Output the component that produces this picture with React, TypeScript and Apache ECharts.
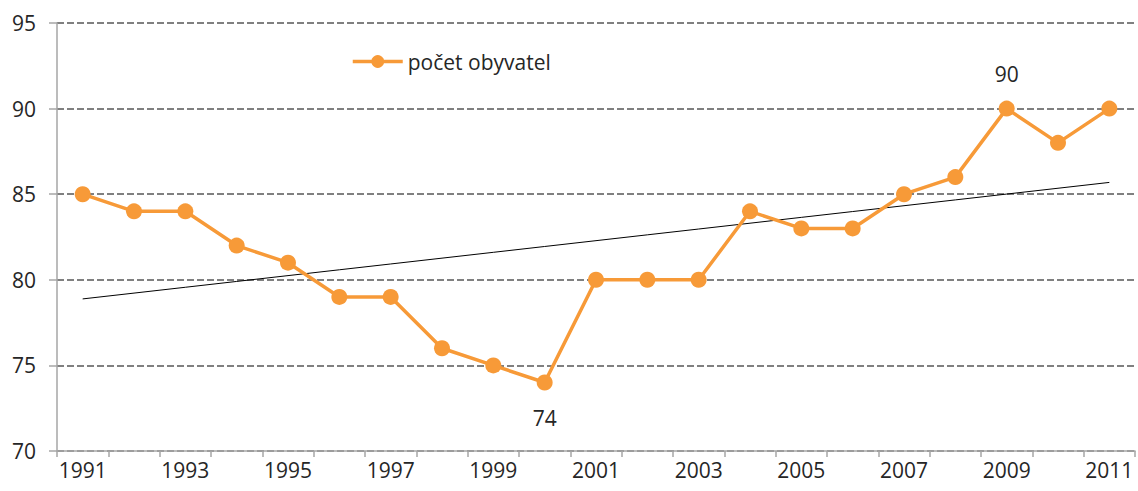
import React, { useEffect, useRef } from "react";
import * as echarts from "echarts";

const years = ["1991","1992","1993","1994","1995","1996","1997","1998","1999","2000","2001","2002","2003","2004","2005","2006","2007","2008","2009","2010","2011"];
const population = [85,84,84,82,81,79,79,76,75,74,80,80,80,84,83,83,85,86,90,88,90];
const labelBelow = ["2000"];
const labelAbove = ["2009"];
const seriesName = "počet obyvatel";
const yMin = 70;
const yMax = 95;
const yStep = 5;

function trend(values: number[]): number[] {
  const n = values.length;
  const mx = (n - 1) / 2;
  const my = values.reduce((a, b) => a + b, 0) / n;
  let sxy = 0, sxx = 0;
  values.forEach((v, i) => { sxy += (i - mx) * (v - my); sxx += (i - mx) * (i - mx); });
  const b = sxy / sxx;
  return values.map((_, i) => my + b * (i - mx));
}

export default function App() {
  const ref = useRef<HTMLDivElement>(null);
  useEffect(() => {
    if (!ref.current) return;
    const chart = echarts.init(ref.current, undefined, { renderer: "svg" });
    const font = "'Open Sans', 'Noto Sans', sans-serif";
    const orange = "#F79A38";
    chart.setOption({
      animation: false,
      textStyle: { fontFamily: font },
      grid: { left: 57, right: 3, top: 23, bottom: 40, containLabel: false },
      legend: {
        data: [seriesName],
        left: 346,
        top: 46,
        itemWidth: 50,
        itemHeight: 16,
        itemGap: 10,
        lineStyle: { width: 3.5 },
        textStyle: { fontSize: 21, color: "#262626", fontFamily: font },
      },
      xAxis: {
        type: "category",
        data: years,
        boundaryGap: true,
        axisLine: { lineStyle: { color: "#A6A6A6", width: 1.5 } },
        axisTick: { show: true, interval: 0, length: 6, lineStyle: { color: "#A6A6A6", width: 1.5 } },
        axisLabel: { interval: 1, fontSize: 21, color: "#262626", margin: 8, fontFamily: font },
        splitLine: { show: false },
      },
      yAxis: {
        type: "value",
        min: yMin,
        max: yMax,
        interval: yStep,
        axisLine: { show: true, lineStyle: { color: "#A6A6A6", width: 1.5 } },
        axisTick: { show: true, length: 8, lineStyle: { color: "#A6A6A6", width: 1.5 } },
        axisLabel: { fontSize: 21, color: "#262626", margin: 21, fontFamily: font },
        splitLine: { show: true, lineStyle: { color: "#808080", type: [7, 3], width: 2 } },
      },
      series: [
        {
          name: seriesName,
          type: "line",
          data: population.map((v, i) => {
            const y = years[i];
            if (labelBelow.includes(y)) {
              return { value: v, label: { show: true, position: "bottom", distance: 17 } };
            }
            if (labelAbove.includes(y)) {
              return { value: v, label: { show: true, position: "top", distance: 16 } };
            }
            return v;
          }),
          symbol: "circle",
          symbolSize: 16,
          itemStyle: { color: orange },
          lineStyle: { color: orange, width: 3.5 },
          label: { show: false, fontSize: 21, color: "#262626", fontFamily: font },
          z: 3,
        },
        {
          name: "trend",
          type: "line",
          data: trend(population),
          symbol: "none",
          lineStyle: { color: "#000000", width: 1 },
          z: 2,
          silent: true,
        },
      ],
    });
    return () => chart.dispose();
  }, []);
  return <div ref={ref} style={{ position: "absolute", left: 0, top: 0, width: 1138, height: 491 }} />;
}
